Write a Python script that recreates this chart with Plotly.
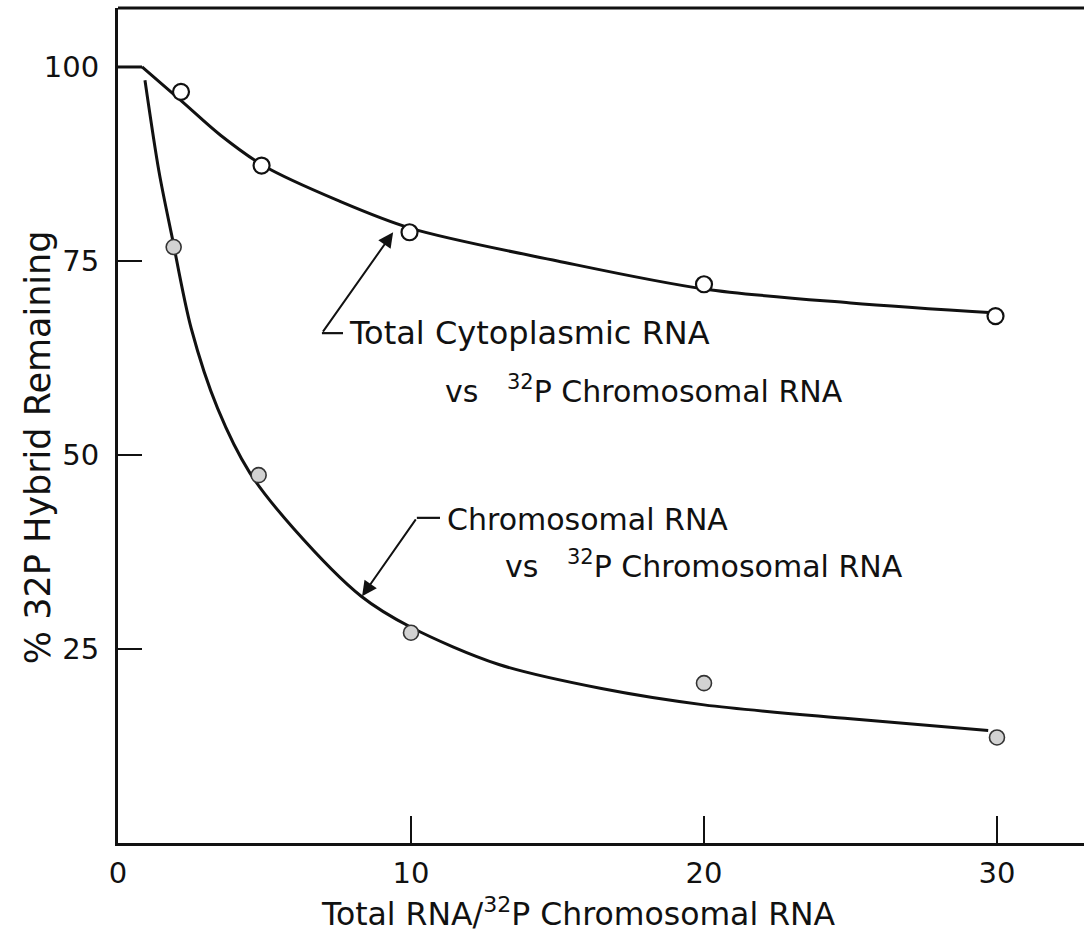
import plotly.graph_objects as go

# Measured points: open circles (cytoplasmic) and shaded circles (chromosomal)
cyto_x = [2.15, 4.9, 9.95, 20.0, 29.95]
cyto_y = [96.8, 87.3, 78.7, 72.0, 67.9]
chrom_x = [1.9, 4.8, 10.0, 20.0, 30.0]
chrom_y = [76.8, 47.4, 27.1, 20.6, 13.6]

# Flat 100 % start, then hand-fitted curves through each series
start_x = [0.0, 0.82]
start_y = [100.0, 100.0]
cyto_fit_x = [0.82, 2.2, 3.5, 5.0, 7.5, 10.0, 15.0, 20.0, 25.0, 30.0]
cyto_fit_y = [100.0, 95.5, 91.2, 87.2, 82.8, 79.2, 75.0, 71.4, 69.6, 68.3]
chrom_fit_x = [0.92, 1.4, 1.84, 2.5, 3.4, 4.5, 6.0, 8.3, 10.0, 13.0, 16.5, 20.0, 25.0, 29.7]
chrom_fit_y = [98.3, 86.5, 78.2, 66.3, 56.0, 47.7, 40.5, 31.8, 27.8, 23.0, 19.9, 17.8, 16.0, 14.5]

x_ticks = [0, 10, 20, 30]
y_ticks = [25, 50, 75, 100]

FONT = "DejaVu Sans"
INK = "#111111"

fig = go.Figure()

curve_line = dict(color=INK, width=3, shape="spline", smoothing=0.9)
fig.add_trace(go.Scatter(x=start_x, y=start_y, mode="lines",
                         line=dict(color=INK, width=3),
                         showlegend=False, hoverinfo="skip"))
fig.add_trace(go.Scatter(x=cyto_fit_x, y=cyto_fit_y, mode="lines", line=curve_line,
                         showlegend=False, hoverinfo="skip"))
fig.add_trace(go.Scatter(x=chrom_fit_x, y=chrom_fit_y, mode="lines", line=curve_line,
                         showlegend=False, hoverinfo="skip"))
fig.add_trace(go.Scatter(x=cyto_x, y=cyto_y, mode="markers",
                         marker=dict(symbol="circle", size=16, color="white",
                                     line=dict(color=INK, width=2.2)),
                         name="Total Cytoplasmic RNA", showlegend=False))
fig.add_trace(go.Scatter(x=chrom_x, y=chrom_y, mode="markers",
                         marker=dict(symbol="circle", size=15, color="#d2d2d2",
                                     line=dict(color="#333333", width=1.6)),
                         name="Chromosomal RNA", showlegend=False))

# Leader lines for the labels and the top frame edge
shapes = [
    dict(type="line", xref="x", yref="y", x0=6.96, y0=65.7, x1=7.68, y1=65.7,
         line=dict(color=INK, width=2.2)),
    dict(type="line", xref="x", yref="y", x0=10.2, y0=41.9, x1=10.99, y1=41.9,
         line=dict(color=INK, width=2.2)),
    dict(type="line", xref="paper", yref="paper", x0=0, y0=1, x1=1, y1=1,
         line=dict(color=INK, width=3)),
]

label_font = dict(family=FONT, size=30, color=INK)
annotations = [
    dict(x=9.39, y=78.7, ax=6.96, ay=65.7, xref="x", yref="y", axref="x", ayref="y",
         text="", showarrow=True, arrowhead=2, arrowsize=1.5, arrowwidth=2,
         arrowcolor=INK, standoff=0),
    dict(x=8.33, y=31.8, ax=10.2, ay=41.9, xref="x", yref="y", axref="x", ayref="y",
         text="", showarrow=True, arrowhead=2, arrowsize=1.5, arrowwidth=2,
         arrowcolor=INK, standoff=0),
    dict(x=7.82, y=65.7, xref="x", yref="y", xanchor="left", yanchor="middle",
         text="Total Cytoplasmic RNA", showarrow=False,
         font=dict(family=FONT, size=32, color=INK)),
    dict(x=11.09, y=58.5, xref="x", yref="y", xanchor="left", yanchor="middle",
         text="vs&nbsp;&nbsp; <sup>32</sup>P Chromosomal RNA", showarrow=False, font=label_font),
    dict(x=11.16, y=41.75, xref="x", yref="y", xanchor="left", yanchor="middle",
         text="Chromosomal RNA", showarrow=False, font=label_font),
    dict(x=13.14, y=35.95, xref="x", yref="y", xanchor="left", yanchor="middle",
         text="vs&nbsp;&nbsp; <sup>32</sup>P Chromosomal RNA", showarrow=False, font=label_font),
    # axis titles
    dict(x=0.477, y=-0.0826, xref="paper", yref="paper", xanchor="center", yanchor="middle",
         text="Total RNA/<sup>32</sup>P Chromosomal RNA", showarrow=False,
         font=dict(family=FONT, size=31.5, color=INK)),
    dict(x=-0.0828, y=0.474, xref="paper", yref="paper", xanchor="center", yanchor="middle",
         text="% 32P Hybrid Remaining", textangle=-90, showarrow=False,
         font=dict(family=FONT, size=35, color=INK)),
]

fig.update_layout(
    width=1084, height=938,
    margin=dict(l=118, r=0, t=8, b=95),
    paper_bgcolor="white", plot_bgcolor="white",
    font=dict(family=FONT, size=29, color=INK),
    shapes=shapes, annotations=annotations,
    showlegend=False,
)
fig.update_xaxes(range=[0, 32.97], tickvals=x_ticks, ticktext=[str(v) for v in x_ticks],
                 ticks="inside", ticklen=27, tickwidth=2, tickcolor=INK,
                 showline=True, linecolor=INK, linewidth=3, showgrid=False, zeroline=False,
                 ticklabelstandoff=2, tickfont=dict(family=FONT, size=29, color=INK))
fig.update_yaxes(range=[0, 107.6], tickvals=y_ticks, ticktext=[str(v) for v in y_ticks],
                 ticks="inside", ticklen=24, tickwidth=2, tickcolor=INK,
                 showline=True, linecolor=INK, linewidth=3, showgrid=False, zeroline=False,
                 ticklabelstandoff=10, tickfont=dict(family=FONT, size=29, color=INK))

fig.write_html("out.html")
